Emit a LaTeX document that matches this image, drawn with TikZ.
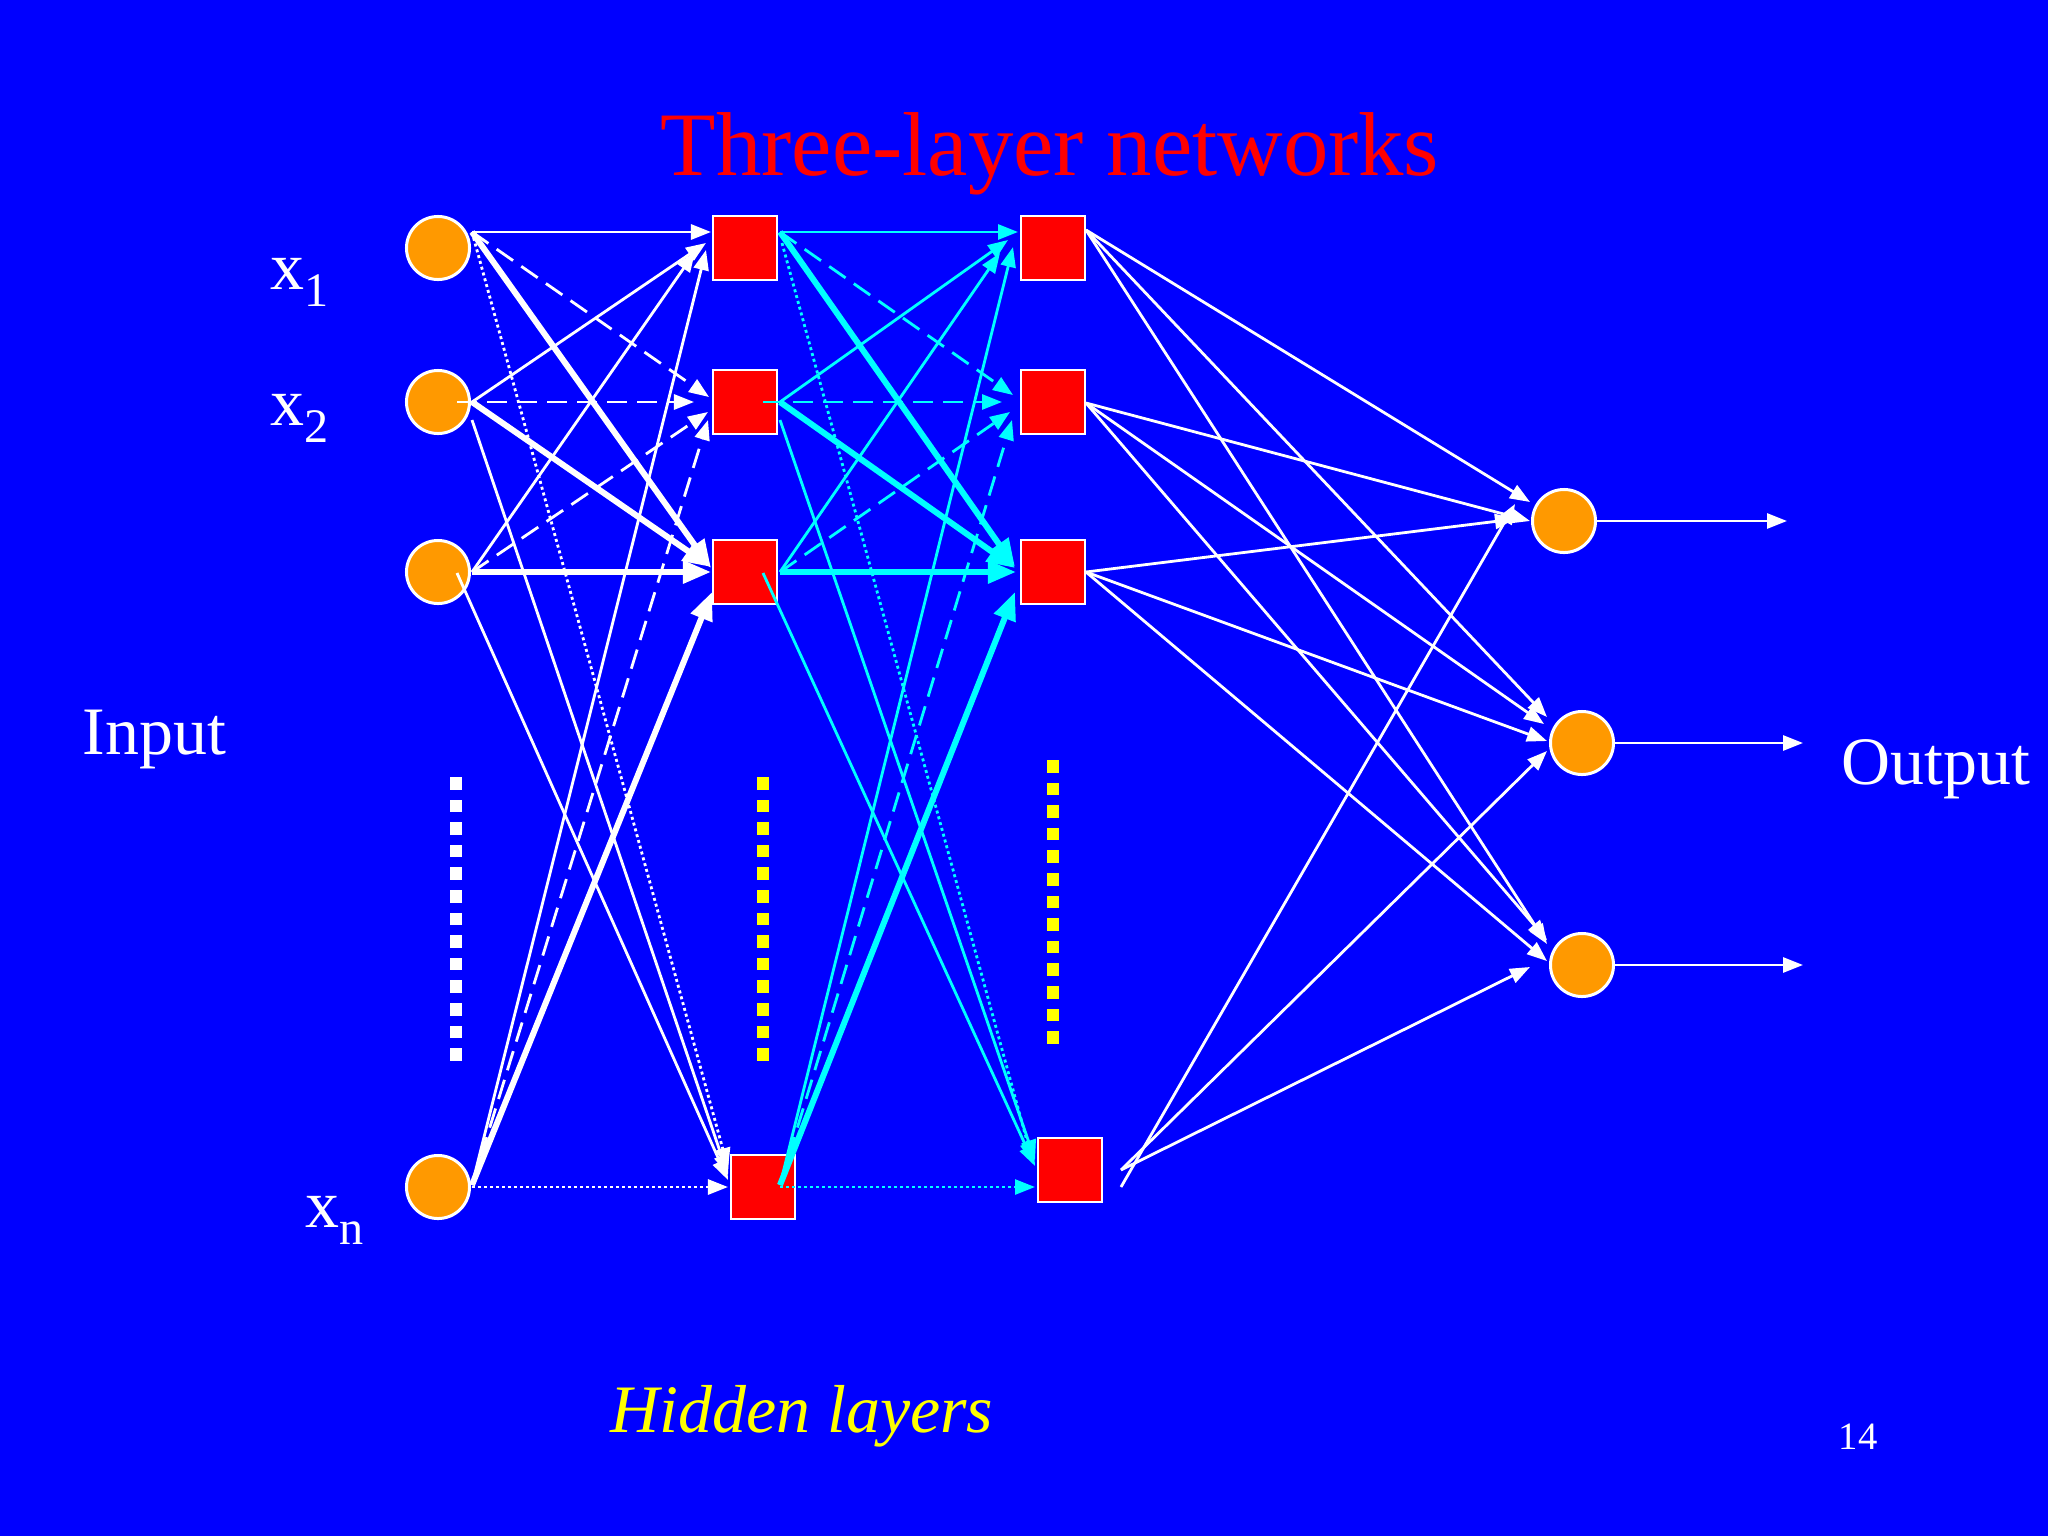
\documentclass[tikz,border=0pt]{standalone}
\usepackage{fontspec}
\setmainfont{Liberation Serif}
\usetikzlibrary{calc,arrows.meta}
\definecolor{bgblue}{RGB}{0,0,255}
\definecolor{orng}{RGB}{255,153,0}
\definecolor{nred}{RGB}{255,0,0}
\definecolor{cyn}{RGB}{0,255,255}
\definecolor{ylw}{RGB}{255,255,0}
\begin{document}
\begin{tikzpicture}[x=0.01cm,y=-0.01cm,
  inode/.style={circle,fill=orng,draw=white,line width=0.03cm,minimum size=0.63cm,inner sep=0},
  hnode/.style={rectangle,fill=nred,draw=white,line width=0.025cm,minimum size=0.64cm,inner sep=0},
  la/.style={line width=0.028cm,-{Triangle[length=0.2cm,width=0.15cm]}},
  lthick/.style={line width=0.06cm,-{Triangle[length=0.28cm,width=0.22cm]}},
  ldash/.style={la,dash pattern=on 0.2cm off 0.1cm},
  ldot/.style={la,dash pattern=on 0.03cm off 0.03cm},
  lbl/.style={inner sep=0,anchor=base west,text=white,font=\fontsize{19.3}{23}\selectfont},
  subf/.style={font=\fontsize{13.7}{16}\selectfont}
]
% background / bounding box
\fill[bgblue] (0,0) rectangle (2048,1536);

% title and labels
\node[inner sep=0,anchor=base,text=nred,font=\fontsize{25.8}{30}\selectfont] (title) at (1050,175) {Three-layer networks};
\node[lbl] (lx1) at (270,289) {x\raisebox{-0.17cm}{\fontsize{13.7}{16}\selectfont 1}};
\node[lbl] (lx2) at (270,425) {x\raisebox{-0.17cm}{\fontsize{13.7}{16}\selectfont 2}};
\node[lbl] (lxn) at (305,1227) {x\raisebox{-0.17cm}{\fontsize{13.7}{16}\selectfont n}};
\node[lbl] (linput) at (82,754) {Input};
\node[lbl] (loutput) at (1841,784) {Output};
\node[lbl,text=ylw,font=\fontsize{19.3}{23}\selectfont\itshape] (lhidden) at (610,1432) {Hidden layers};
\node[inner sep=0,anchor=base west,text=white,font=\fontsize{11}{13}\selectfont] (pnum) at (1838,1449) {14};

% dotted columns
\foreach \i in {0,...,12} {
  \fill[white] (450,{777+\i*22.6}) rectangle ++(12,12.6);
  \fill[ylw] (757,{777+\i*22.6}) rectangle ++(12,12.6);
  \fill[ylw] (1047,{760+\i*22.6}) rectangle ++(12,12.6);
}

% nodes
\node[inode] (I1) at (438,248) {};
\node[inode] (I2) at (438,402) {};
\node[inode] (I3) at (438,572) {};
\node[inode] (In) at (438,1187) {};
\node[hnode] (H1a) at (745,248) {};
\node[hnode] (H1b) at (745,402) {};
\node[hnode] (H1c) at (745,572) {};
\node[hnode] (H1n) at (763,1187) {};
\node[hnode] (H2a) at (1053,248) {};
\node[hnode] (H2b) at (1053,402) {};
\node[hnode] (H2c) at (1053,572) {};
\node[hnode] (H2n) at (1070,1170) {};
\node[inode] (O1) at (1564,521) {};
\node[inode] (O2) at (1582,743) {};
\node[inode] (O3) at (1582,965) {};

\coordinate (out1) at (1787,521);
\coordinate (out2) at (1803,743);
\coordinate (out3) at (1803,965);

% input -> hidden 1
\begin{scope}[white]
\draw[la]     ($(I1)+(34,-16)$) -- ($(H1a)+(-34,-16)$);
\draw[ldash]  ($(I1)+(34,-16)$) -- ($(H1b)+(-36,-5)$);
\draw[lthick] ($(I1)+(34,-16)$) -- ($(H1c)+(-34,-4)$);
\draw[ldot]   ($(I1)+(34,-16)$) -- ($(H1n)+(-35,-19)$);

\draw[la]     ($(I2)+(34,0)$) -- ($(H1a)+(-39,-5)$);
\draw[ldash]  ($(I2)+(19,0)$) -- ($(H1b)+(-51,0)$);
\draw[lthick] ($(I2)+(34,0)$) -- ($(H1c)+(-34,-5)$);
\draw[la]     ($(I2)+(34,18)$) -- ($(H1n)+(-35,-12)$);

\draw[la]     ($(I3)+(34,0)$) -- ($(H1a)+(-50,4)$);
\draw[ldash]  ($(I3)+(34,0)$) -- ($(H1b)+(-37,10)$);
\draw[lthick] ($(I3)+(34,0)$) -- ($(H1c)+(-34,0)$);
\draw[la]     ($(I3)+(19,1)$) -- ($(H1n)+(-35,-7)$);

\draw[la]     ($(In)+(34,-2)$) -- ($(H1a)+(-39,2)$);
\draw[ldash]  ($(In)+(34,-2)$) -- ($(H1b)+(-37,18)$);
\draw[lthick] ($(In)+(34,-2)$) -- ($(H1c)+(-33,20)$);
\draw[ldot]   ($(In)+(34,0)$) -- ($(H1n)+(-35,0)$);
\end{scope}

% hidden 1 -> hidden 2
\begin{scope}[cyn]
\draw[la]     ($(H1a)+(35,-16)$) -- ($(H2a)+(-35,-16)$);
\draw[ldash]  ($(H1a)+(35,-16)$) -- ($(H2b)+(-40,-7)$);
\draw[lthick] ($(H1a)+(35,-16)$) -- ($(H2c)+(-38,-5)$);
\draw[ldot]   ($(H1a)+(37,-5)$) -- ($(H2n)+(-37,-7)$);

\draw[la]     ($(H1b)+(35,0)$) -- ($(H2a)+(-45,-8)$);
\draw[ldash]  ($(H1b)+(18,0)$) -- ($(H2b)+(-51,0)$);
\draw[lthick] ($(H1b)+(35,0)$) -- ($(H2c)+(-38,-4)$);
\draw[la]     ($(H1b)+(35,18)$) -- ($(H2n)+(-35,-10)$);

\draw[la]     ($(H1c)+(35,0)$) -- ($(H2a)+(-53,5)$);
\draw[ldash]  ($(H1c)+(35,0)$) -- ($(H2b)+(-43,10)$);
\draw[lthick] ($(H1c)+(35,0)$) -- ($(H2c)+(-37,0)$);
\draw[la]     ($(H1c)+(18,1)$) -- ($(H2n)+(-35,-4)$);

\draw[la]     ($(H1n)+(17,-2)$) -- ($(H2a)+(-40,-1)$);
\draw[ldash]  ($(H1n)+(17,-2)$) -- ($(H2b)+(-41,18)$);
\draw[lthick] ($(H1n)+(17,-2)$) -- ($(H2c)+(-38,20)$);
\draw[ldot]   ($(H1n)+(17,0)$) -- ($(H2n)+(-35,17)$);
\end{scope}

% hidden 2 -> output
\begin{scope}[white]
\draw[la] ($(H2a)+(33,-18)$) -- ($(O1)+(-34,-19)$);
\draw[la] ($(H2a)+(33,-18)$) -- ($(O2)+(-35,-26)$);
\draw[la] ($(H2a)+(33,-18)$) -- ($(O3)+(-35,-21)$);

\draw[la] ($(H2b)+(33,1)$) -- ($(O1)+(-34,0)$);
\draw[la] ($(H2b)+(33,1)$) -- ($(O2)+(-38,-19)$);
\draw[la] ($(H2b)+(33,1)$) -- ($(O3)+(-35,-25)$);

\draw[la] ($(H2c)+(33,0)$) -- ($(O1)+(-49,-2)$);
\draw[la] ($(H2c)+(33,0)$) -- ($(O2)+(-35,-2)$);
\draw[la] ($(H2c)+(33,0)$) -- ($(O3)+(-35,-4)$);

\draw[la] ($(H2n)+(51,17)$) -- ($(O1)+(-49,-17)$);
\draw[la] ($(H2n)+(51,0)$) -- ($(O2)+(-35,8)$);
\draw[la] ($(H2n)+(51,0)$) -- ($(O3)+(-52,2)$);

\draw[la] (O1.east) -- (out1);
\draw[la] (O2.east) -- (out2);
\draw[la] (O3.east) -- (out3);
\end{scope}
\end{tikzpicture}
\end{document}
